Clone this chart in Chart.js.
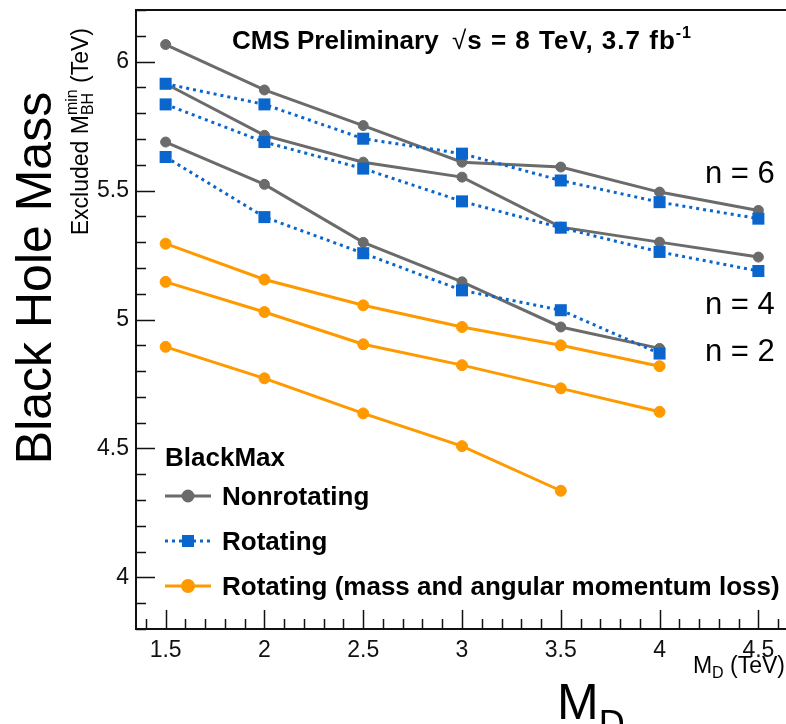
<!DOCTYPE html>
<html>
<head>
<meta charset="utf-8">
<title>Black hole mass limits</title>
<script src="https://cdn.jsdelivr.net/npm/chart.js@4.4.0/dist/chart.umd.min.js"></script>
<style>
  html, body { margin: 0; padding: 0; background: #fff; overflow: hidden; }
  #wrap { position: relative; width: 790px; height: 724px; }
</style>
</head>
<body>
<div id="wrap"><canvas id="limits" width="790" height="724"></canvas></div>

<script type="text/javascript">
// M_D points (TeV)
var md = [1.5, 2, 2.5, 3, 3.5, 4, 4.5]

// excluded minimum black hole mass (TeV) for n = 6, 4, 2
var nonrot_n6 = [6.066, 5.890, 5.752, 5.610, 5.591, 5.494, 5.423]
var nonrot_n4 = [5.914, 5.714, 5.610, 5.552, 5.358, 5.300, 5.242]
var nonrot_n2 = [5.688, 5.524, 5.299, 5.146, 4.971, 4.888]

var rot_n6 = [5.914, 5.834, 5.701, 5.643, 5.539, 5.455, 5.391]
var rot_n4 = [5.834, 5.688, 5.585, 5.458, 5.356, 5.262, 5.188]
var rot_n2 = [5.630, 5.397, 5.257, 5.113, 5.036, 4.868]

var loss_n6 = [5.294, 5.155, 5.055, 4.971, 4.900, 4.819]
var loss_n4 = [5.146, 5.029, 4.904, 4.823, 4.733, 4.642]
var loss_n2 = [4.894, 4.772, 4.636, 4.509, 4.336]

var xTicks = [1.5, 2, 2.5, 3, 3.5, 4, 4.5]
var yTicks = [4, 4.5, 5, 5.5, 6]
var nLabels = ["n = 6", "n = 4", "n = 2"]
var legendNames = ["Nonrotating", "Rotating", "Rotating (mass and angular momentum loss)"]

var colors = { nonrot: "#6b6b6b", rot: "#0a66cc", loss: "#ff9900" }
var FONT = "'Liberation Sans', Arial, sans-serif"

function pts(vals) {
  return vals.map(function (v, i) { return { x: md[i], y: v } })
}

function nonrotSet(vals) {
  return {
    data: pts(vals), borderColor: colors.nonrot, borderWidth: 3,
    pointStyle: "circle", pointRadius: 5, pointBackgroundColor: colors.nonrot,
    pointBorderColor: colors.nonrot, pointBorderWidth: 1
  }
}
function rotSet(vals) {
  return {
    data: pts(vals), borderColor: colors.rot, borderWidth: 3, borderDash: [3, 4],
    pointStyle: "rect", pointRadius: 8.5, pointBackgroundColor: colors.rot,
    pointBorderColor: colors.rot, pointBorderWidth: 0
  }
}
function lossSet(vals) {
  return {
    data: pts(vals), borderColor: colors.loss, borderWidth: 3,
    pointStyle: "circle", pointRadius: 5.5, pointBackgroundColor: colors.loss,
    pointBorderColor: colors.loss, pointBorderWidth: 1
  }
}

// draws a run of text pieces, each with its own font and vertical shift
function drawPieces(ctx, pieces, x, y) {
  pieces.forEach(function (p) {
    ctx.font = p.font
    ctx.fillText(p.t, x, y + (p.dy || 0))
    x += ctx.measureText(p.t).width
  })
  return x
}
function piecesWidth(ctx, pieces) {
  var w = 0
  pieces.forEach(function (p) { ctx.font = p.font; w += ctx.measureText(p.t).width })
  return w
}

var rootStyle = {
  id: "rootStyle",
  afterDatasetsDraw: function (chart) {
    var ctx = chart.ctx, a = chart.chartArea
    var xs = chart.scales.x, ys = chart.scales.y
    ctx.save()
    ctx.strokeStyle = "#111"
    ctx.lineWidth = 1.5
    // inward tick marks, minor every 0.1
    ctx.beginPath()
    for (var k = 38; k <= 62; k++) {
      var py = Math.round(ys.getPixelForValue(k / 10)) + 0.5
      var len = (k % 5 === 0) ? 19 : 10
      ctx.moveTo(a.left, py); ctx.lineTo(a.left + len, py)
    }
    for (var j = 14; j <= 46; j++) {
      var px = Math.round(xs.getPixelForValue(j / 10)) + 0.5
      var lenx = (j % 5 === 0) ? 19 : 10
      ctx.moveTo(px, a.bottom); ctx.lineTo(px, a.bottom - lenx)
    }
    ctx.stroke()
    // frame; its right side sits just past the page edge
    ctx.lineWidth = 2
    ctx.strokeRect(a.left, a.top, a.right - a.left + 3, a.bottom - a.top)
    ctx.restore()
  },
  afterDraw: function (chart) {
    var ctx = chart.ctx
    ctx.save()
    ctx.fillStyle = "#000"
    ctx.textBaseline = "alphabetic"
    ctx.textAlign = "left"

    // header
    var b26 = "bold 26px " + FONT
    drawPieces(ctx, [{ t: "CMS Preliminary", font: b26 }], 232, 49)
    ctx.letterSpacing = "1px"
    drawPieces(ctx, [
      { t: "\u221A", font: "26px " + FONT },
      { t: "s = 8 TeV, 3.7 fb", font: b26 },
      { t: "-1", font: "bold 16px " + FONT, dy: -11 }
    ], 452, 49)
    ctx.letterSpacing = "0px"

    // n labels
    ctx.font = "31px " + FONT
    ctx.fillText(nLabels[0], 705, 183)
    ctx.fillText(nLabels[1], 705, 314)
    ctx.fillText(nLabels[2], 705, 361)

    // legend
    ctx.font = b26
    ctx.fillText("BlackMax", 165, 466)
    var rows = [
      { y: 496, ds: chart.data.datasets[3] },
      { y: 541, ds: chart.data.datasets[0] },
      { y: 586, ds: chart.data.datasets[6] }
    ]
    rows.forEach(function (r, i) {
      ctx.save()
      ctx.strokeStyle = r.ds.borderColor
      ctx.lineWidth = r.ds.borderWidth
      ctx.setLineDash(r.ds.borderDash || [])
      ctx.beginPath(); ctx.moveTo(165, r.y); ctx.lineTo(211, r.y); ctx.stroke()
      ctx.setLineDash([])
      ctx.fillStyle = r.ds.pointBackgroundColor
      ctx.strokeStyle = r.ds.pointBorderColor
      Chart.helpers.drawPoint(ctx, {
        pointStyle: r.ds.pointStyle, radius: r.ds.pointRadius,
        borderWidth: r.ds.pointBorderWidth, rotation: 0
      }, 188, r.y)
      ctx.restore()
      ctx.font = b26
      ctx.fillText(legendNames[i], 222, r.y + 9)
    })

    // x axis titles
    var xt = [
      { t: "M", font: "23px " + FONT },
      { t: "D", font: "16px " + FONT, dy: 5 },
      { t: " (TeV)", font: "23px " + FONT }
    ]
    drawPieces(ctx, xt, 785 - piecesWidth(ctx, xt), 673)
    drawPieces(ctx, [
      { t: "M", font: "50px " + FONT },
      { t: "D", font: "36px " + FONT, dy: 17 }
    ], 557, 719)

    // y axis titles, rotated
    ctx.save()
    ctx.translate(51, 278)
    ctx.rotate(-Math.PI / 2)
    ctx.textAlign = "center"
    ctx.font = "50px " + FONT
    ctx.fillText("Black Hole Mass", 0, 0)
    ctx.restore()

    ctx.save()
    var f23 = "23px " + FONT, f16 = "16px " + FONT
    ctx.font = f23
    var w1 = ctx.measureText("Excluded M").width
    ctx.font = f16
    var wsub = Math.max(ctx.measureText("BH").width, ctx.measureText("min").width)
    ctx.font = f23
    var w3 = ctx.measureText(" (TeV)").width
    var total = w1 + wsub + w3
    ctx.translate(88, 28 + total)
    ctx.rotate(-Math.PI / 2)
    ctx.font = f23
    ctx.fillText("Excluded M", 0, 0)
    ctx.font = f16
    ctx.fillText("BH", w1, 5)
    ctx.fillText("min", w1, -11)
    ctx.font = f23
    ctx.fillText(" (TeV)", w1 + wsub, 0)
    ctx.restore()

    ctx.restore()
  }
}

function plainLabel(v) { return String(v) }

var chart = new Chart(document.getElementById("limits"), {
  type: "line",
  data: {
    datasets: [
      rotSet(rot_n6), rotSet(rot_n4), rotSet(rot_n2),
      nonrotSet(nonrot_n6), nonrotSet(nonrot_n4), nonrotSet(nonrot_n2),
      lossSet(loss_n6), lossSet(loss_n4), lossSet(loss_n2)
    ]
  },
  options: {
    responsive: false,
    animation: false,
    layout: { autoPadding: false, padding: { top: 10, right: 2, left: 0, bottom: 0 } },
    plugins: { legend: { display: false }, tooltip: { enabled: false } },
    elements: { line: { tension: 0 } },
    scales: {
      x: {
        type: "linear", min: 1.35, max: 4.65,
        grid: { display: false, drawTicks: false }, border: { display: false },
        afterBuildTicks: function (s) { s.ticks = xTicks.map(function (v) { return { value: v } }) },
        afterFit: function (s) { s.height = 95; s.paddingLeft = 0; s.paddingRight = 0 },
        ticks: { padding: 8, maxRotation: 0, autoSkip: false, color: "#111", callback: plainLabel, font: { family: FONT, size: 23 } }
      },
      y: {
        type: "linear", min: 3.8, max: 6.2,
        grid: { display: false, drawTicks: false }, border: { display: false },
        afterBuildTicks: function (s) { s.ticks = yTicks.map(function (v) { return { value: v } }) },
        afterFit: function (s) { s.width = 136; s.paddingTop = 0; s.paddingBottom = 0 },
        ticks: { padding: 7, color: "#111", callback: plainLabel, font: { family: FONT, size: 23 } }
      }
    }
  },
  plugins: [rootStyle]
})
</script>
</body>
</html>
